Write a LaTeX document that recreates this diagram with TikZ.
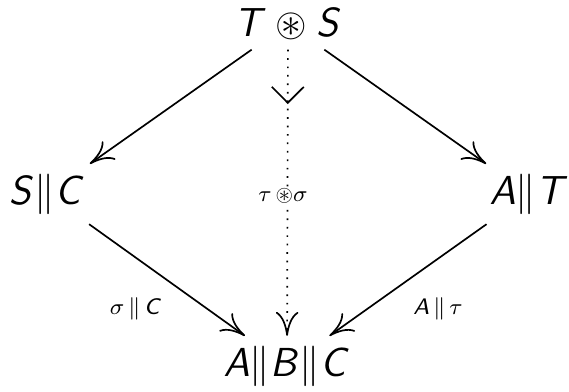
\documentclass[tikz,border=0pt]{standalone}
\usepackage{amssymb}
\usetikzlibrary{arrows.meta,decorations.markings}
% slanted sans serif capitals in math
\DeclareSymbolFont{sfletters}{OT1}{cmss}{m}{sl}
\DeclareMathSymbol{A}{\mathalpha}{sfletters}{`A}
\DeclareMathSymbol{B}{\mathalpha}{sfletters}{`B}
\DeclareMathSymbol{C}{\mathalpha}{sfletters}{`C}
\DeclareMathSymbol{S}{\mathalpha}{sfletters}{`S}
\DeclareMathSymbol{T}{\mathalpha}{sfletters}{`T}
\tikzset{every node/.style={font=\Large},
  lbl/.style={font=\footnotesize},
  map/.style={semithick,-{Computer Modern Rightarrow[length=8.5pt,width=8pt]}},
  lax/.style={map,dash pattern=on 0.6pt off 2.4pt,postaction=decorate,
    decoration={markings,mark=at position 0.19 with {\arrow{Straight Barb[length=5.7pt,width=11.4pt]}}}}}

\begin{document}
\begin{tikzpicture}[x=0.0125cm,y=-0.0125cm]
  \useasboundingbox (0,0) rectangle (569,392);
  % the four corners
  \node (ts) at (288,24) {$T \circledast S$};
  \node (sc) at (47,194) {$S\|C$};
  \node (at) at (529,194) {$A\|T$};
  \node (abc) at (287,366) {$A\|B\|C$};
  % sides of the square
  \draw[map] (ts) -- (sc);
  \draw[map] (ts) -- (at);
  \draw[map] (sc) -- (abc);
  \draw[map] (at) -- (abc);
  % the diagonal
  \draw[lax] (ts) -- (abc);
  \node[lbl,fill=white,inner sep=0.5pt] (tausig) at (283,196) {$\tau\,{\circledast}\sigma$};
  \node[lbl] (sigc) at (136,309) {$\sigma\,\|\,C$};
  \node[lbl] (atau) at (438,309) {$A\,\|\,\tau$};
\end{tikzpicture}
\end{document}
